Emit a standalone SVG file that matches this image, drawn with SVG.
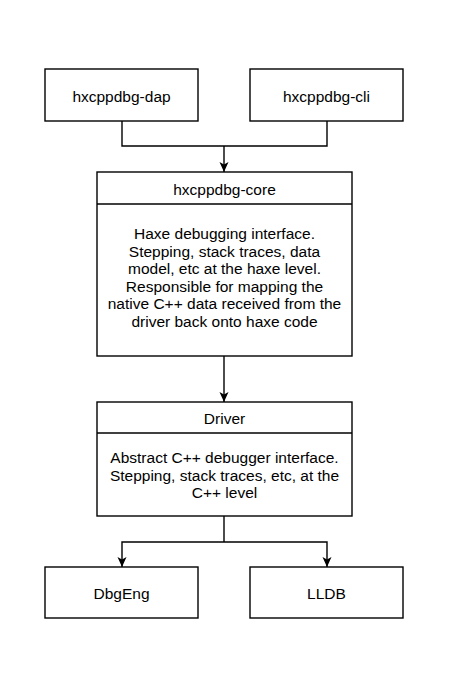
<svg xmlns="http://www.w3.org/2000/svg" width="449" height="688" viewBox="0 0 449 688">
<style>
.box{fill:#fff;stroke:#000;stroke-width:1.4}
.t{font-family:"Liberation Sans",Arial,sans-serif;font-size:15.5px;fill:#000;text-anchor:middle;dominant-baseline:central}
.b{font-family:"Liberation Sans",Arial,sans-serif;font-size:15.5px;fill:#000;text-anchor:middle}
.c{fill:none;stroke:#000;stroke-width:1.4}
</style>
<defs>
<marker id="ah" viewBox="0 0 10 10" refX="10" refY="5" markerWidth="10" markerHeight="10" markerUnits="userSpaceOnUse" orient="auto">
<path d="M0,0.5 L10,5 L0,9.5 L2.5,5 Z" fill="#000"/>
</marker>
</defs>
<rect width="449" height="688" fill="#fff"/>
<g id="connectors">
<path class="c" d="M122,121 V146 H327 V121"/>
<path class="c" d="M224,146 V172" marker-end="url(#ah)"/>
<path class="c" d="M224,356 V402" marker-end="url(#ah)"/>
<path class="c" d="M224,516 V542"/>
<path class="c" d="M224,542 H122 V567" marker-end="url(#ah)"/>
<path class="c" d="M224,542 H327 V567" marker-end="url(#ah)"/>
</g>
<g id="dap">
<rect class="box" x="45" y="69" width="153" height="52"/>
<text class="t" x="121.5" y="96">hxcppdbg-dap</text>
</g>
<g id="cli">
<rect class="box" x="250" y="69" width="153" height="52"/>
<text class="t" x="326.5" y="96">hxcppdbg-cli</text>
</g>
<g id="core">
<rect class="box" x="97" y="172" width="255" height="184"/>
<line class="c" x1="97" y1="204" x2="352" y2="204"/>
<text class="t" x="224.5" y="189">hxcppdbg-core</text>
<text class="b" x="224.5" y="239">Haxe debugging interface.</text>
<text class="b" x="224.5" y="256.5">Stepping, stack traces, data</text>
<text class="b" x="224.5" y="274">model, etc at the haxe level.</text>
<text class="b" x="224.5" y="291.5">Responsible for mapping the</text>
<text class="b" x="224.5" y="309">native C++ data received from the</text>
<text class="b" x="224.5" y="326.5">driver back onto haxe code</text>
</g>
<g id="driver">
<rect class="box" x="97" y="402" width="255" height="114"/>
<line class="c" x1="97" y1="433" x2="352" y2="433"/>
<text class="t" x="224.5" y="418">Driver</text>
<text class="b" x="224.5" y="463">Abstract C++ debugger interface.</text>
<text class="b" x="224.5" y="480.5">Stepping, stack traces, etc, at the</text>
<text class="b" x="224.5" y="498">C++ level</text>
</g>
<g id="dbgeng">
<rect class="box" x="45" y="567" width="153" height="51"/>
<text class="t" x="121.5" y="593">DbgEng</text>
</g>
<g id="lldb">
<rect class="box" x="250" y="567" width="153" height="51"/>
<text class="t" x="326.5" y="593">LLDB</text>
</g>
</svg>
